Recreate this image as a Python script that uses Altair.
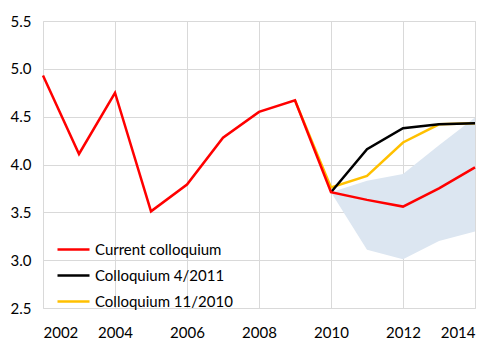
import altair as alt
import pandas as pd

years = [2002, 2003, 2004, 2005, 2006, 2007, 2008, 2009, 2010, 2011, 2012, 2013, 2014]
current = [4.93, 4.11, 4.75, 3.51, 3.79, 4.28, 4.55, 4.67, 3.71, 3.63, 3.56, 3.75, 3.97]

years_4_2011 = [2010, 2011, 2012, 2013, 2014]
coll_4_2011 = [3.71, 4.16, 4.38, 4.42, 4.43]

years_11_2010 = [2009, 2010, 2011, 2012, 2013, 2014]
coll_11_2010 = [4.67, 3.76, 3.88, 4.23, 4.42, 4.43]

band_years = [2010, 2011, 2012, 2013, 2014]
band_low = [3.71, 3.11, 3.01, 3.20, 3.30]
band_high = [3.71, 3.83, 3.90, 4.20, 4.49]

names = ["Current colloquium", "Colloquium 4/2011", "Colloquium 11/2010"]
colors = ["#FF0000", "#000000", "#FFC000"]

rows = []
for y, v in zip(years_11_2010, coll_11_2010):
    rows.append({"year": y, "value": v, "series": names[2], "order": 0})
for y, v in zip(years_4_2011, coll_4_2011):
    rows.append({"year": y, "value": v, "series": names[1], "order": 1})
for y, v in zip(years, current):
    rows.append({"year": y, "value": v, "series": names[0], "order": 2})
lines_df = pd.DataFrame(rows)

band_df = pd.DataFrame({"year": band_years, "low": band_low, "high": band_high})

font = "Lato"

x_enc = alt.X(
    "year:Q",
    scale=alt.Scale(domain=[2002, 2014], nice=False),
    axis=alt.Axis(
        values=[2002, 2004, 2006, 2008, 2010, 2012, 2014],
        format="d",
        title=None,
        grid=True,
        gridColor="#D9D9D9",
        domain=False,
        ticks=False,
        labelFont=font,
        labelFontSize=15,
        labelColor="#000000",
        labelPadding=17,
    ),
)
y_scale = alt.Scale(domain=[2.5, 5.5], nice=False, zero=False)
y_axis = alt.Axis(
    values=[2.5, 3.0, 3.5, 4.0, 4.5, 5.0, 5.5],
    format=".1f",
    title=None,
    grid=True,
    gridColor="#D9D9D9",
    domain=False,
    ticks=False,
    labelFont=font,
    labelFontSize=15,
    labelColor="#000000",
    labelPadding=12,
)

band = alt.Chart(band_df).mark_area(color="#DCE6F1", opacity=1).encode(
    x=x_enc,
    y=alt.Y("low:Q", scale=y_scale, axis=y_axis),
    y2="high:Q",
)

lines = alt.Chart(lines_df).mark_line(strokeWidth=2.5).encode(
    x=alt.X("year:Q"),
    y=alt.Y("value:Q", scale=y_scale),
    color=alt.Color(
        "series:N",
        scale=alt.Scale(domain=names, range=colors),
        legend=alt.Legend(
            title=None,
            orient="none",
            legendX=13,
            legendY=211,
            symbolType="stroke",
            symbolSize=1024,
            symbolStrokeWidth=2.5,
            labelFont=font,
            labelFontSize=15,
            labelColor="#000000",
            rowPadding=-9,
            labelOffset=4,
        ),
    ),
    detail="order:O",
    order=alt.Order("year:Q"),
)

chart = (
    alt.layer(band, lines)
    .properties(
        width=432,
        height=287,
        autosize=alt.AutoSizeParams(type="none"),
        padding={"left": 35, "top": 13, "right": 17, "bottom": 37},
    )
    .configure_view(stroke="#D9D9D9", strokeWidth=1)
    .configure(background="#FFFFFF")
)

chart.save("out.html", embed_options={"renderer": "svg", "actions": False})
